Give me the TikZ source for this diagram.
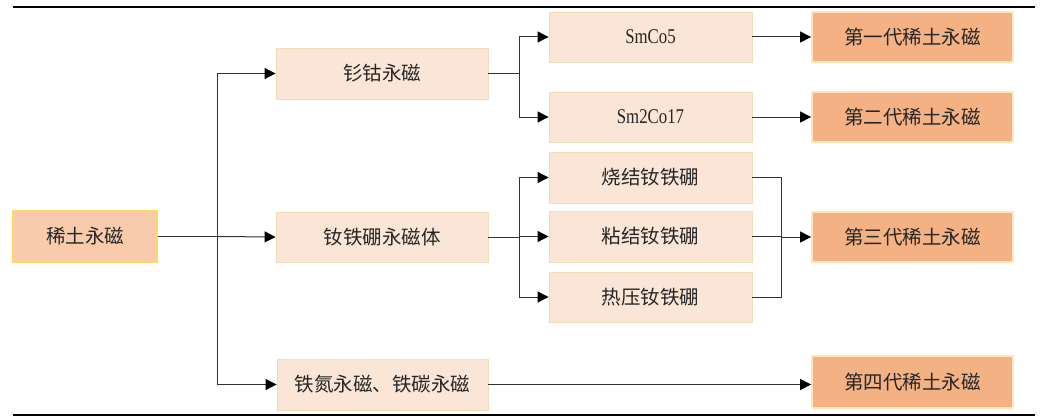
\documentclass[tikz,border=0pt]{standalone}
\usepackage{fontspec}
\setmainfont{Liberation Serif}
\newfontfamily\cjk{Noto Sans CJK SC}
\newfontfamily\narrowserif[FakeStretch=0.8]{Liberation Serif}
\usetikzlibrary{arrows.meta}
\definecolor{lightfill}{HTML}{FBE5D6}
\definecolor{lightdraw}{HTML}{F3DDB8}
\definecolor{darkfill}{HTML}{F4B183}
\definecolor{darkdraw}{HTML}{FFE9B8}
\definecolor{rootfill}{HTML}{F8CBAD}
\definecolor{rootdraw}{HTML}{FFD966}
\definecolor{txt}{HTML}{262626}
\definecolor{ln}{HTML}{333333}
\tikzset{
  base/.style={rectangle, inner sep=0pt, text=txt, font=\cjk\fontsize{19.5}{22}\selectfont},
  lightbox/.style={base, fill=lightfill, draw=lightdraw, line width=0.9pt},
  darkbox/.style={base, fill=darkfill, draw=darkdraw, line width=1.8pt},
  rootbox/.style={base, fill=rootfill, draw=rootdraw, line width=1.2pt},
  latin/.style={font=\narrowserif\fontsize{21}{24}\selectfont},
  conn/.style={draw=ln, line width=1pt},
  arr/.style={conn, -{Triangle[length=11pt,width=11pt,fill=black,color=black]}}
}
\begin{document}
\begin{tikzpicture}[x=1pt,y=-1pt]
\useasboundingbox (0,0) rectangle (1040,417);
% rules
\draw[line width=2pt] (13,7) -- (1035,7);
\draw[line width=1.5pt] (13,415) -- (1035,415);
% nodes
\node[rootbox, minimum width=144pt, minimum height=51pt] (root) at (85,236.5) {稀土永磁};
\node[lightbox, minimum width=212pt, minimum height=51pt] (b1) at (382,73.5) {钐钴永磁};
\node[lightbox, minimum width=212pt, minimum height=50pt] (b2) at (382,237) {钕铁硼永磁体};
\node[lightbox, minimum width=211pt, minimum height=51pt] (b3) at (382.5,384.5) {铁氮永磁、铁碳永磁};
\node[lightbox, latin, minimum width=203pt, minimum height=50pt] (c1) at (650.5,37) {SmCo5};
\node[lightbox, latin, minimum width=203pt, minimum height=50pt] (c2) at (650.5,117) {Sm2Co17};
\node[lightbox, minimum width=203pt, minimum height=51pt] (c3) at (650.5,177.5) {烧结钕铁硼};
\node[lightbox, minimum width=203pt, minimum height=51pt] (c4) at (650.5,236.5) {粘结钕铁硼};
\node[lightbox, minimum width=203pt, minimum height=50pt] (c5) at (650.5,297) {热压钕铁硼};
\node[darkbox, minimum width=201pt, minimum height=50pt] (d1) at (912.5,37) {第一代稀土永磁};
\node[darkbox, minimum width=201pt, minimum height=50pt] (d2) at (912.5,117) {第二代稀土永磁};
\node[darkbox, minimum width=201pt, minimum height=50pt] (d3) at (912.5,237) {第三代稀土永磁};
\node[darkbox, minimum width=201pt, minimum height=52pt] (d4) at (912.5,382) {第四代稀土永磁};
% junction coordinates
\coordinate (j1) at (217,236.5);
\coordinate (j2) at (519.5,73.5);
\coordinate (j3) at (519.5,237);
\coordinate (j4) at (781.5,237);
% connectors
\draw[conn] (root.east) -- (j1);
\draw[arr] (j1) |- (b1.west);
\draw[arr] (j1) -- (b2.west);
\draw[arr] (j1) |- (b3.west);
\draw[conn] (b1.east) -- (j2);
\draw[arr] (j2) |- (c1.west);
\draw[arr] (j2) |- (c2.west);
\draw[conn] (b2.east) -- (j3);
\draw[arr] (j3) |- (c3.west);
\draw[arr] (j3) |- (c4.west);
\draw[arr] (j3) |- (c5.west);
\draw[conn] (c3.east) -| (j4);
\draw[conn] (c5.east) -| (j4);
\draw[conn] (c4.east) -- (c4.east -| j4);
\draw[arr] (j4) -- (d3.west);
\draw[arr] (c1.east) -- (d1.west);
\draw[arr] (c2.east) -- (d2.west);
\draw[arr] (b3.east) -- (b3.east -| d4.west);
\end{tikzpicture}
\end{document}
